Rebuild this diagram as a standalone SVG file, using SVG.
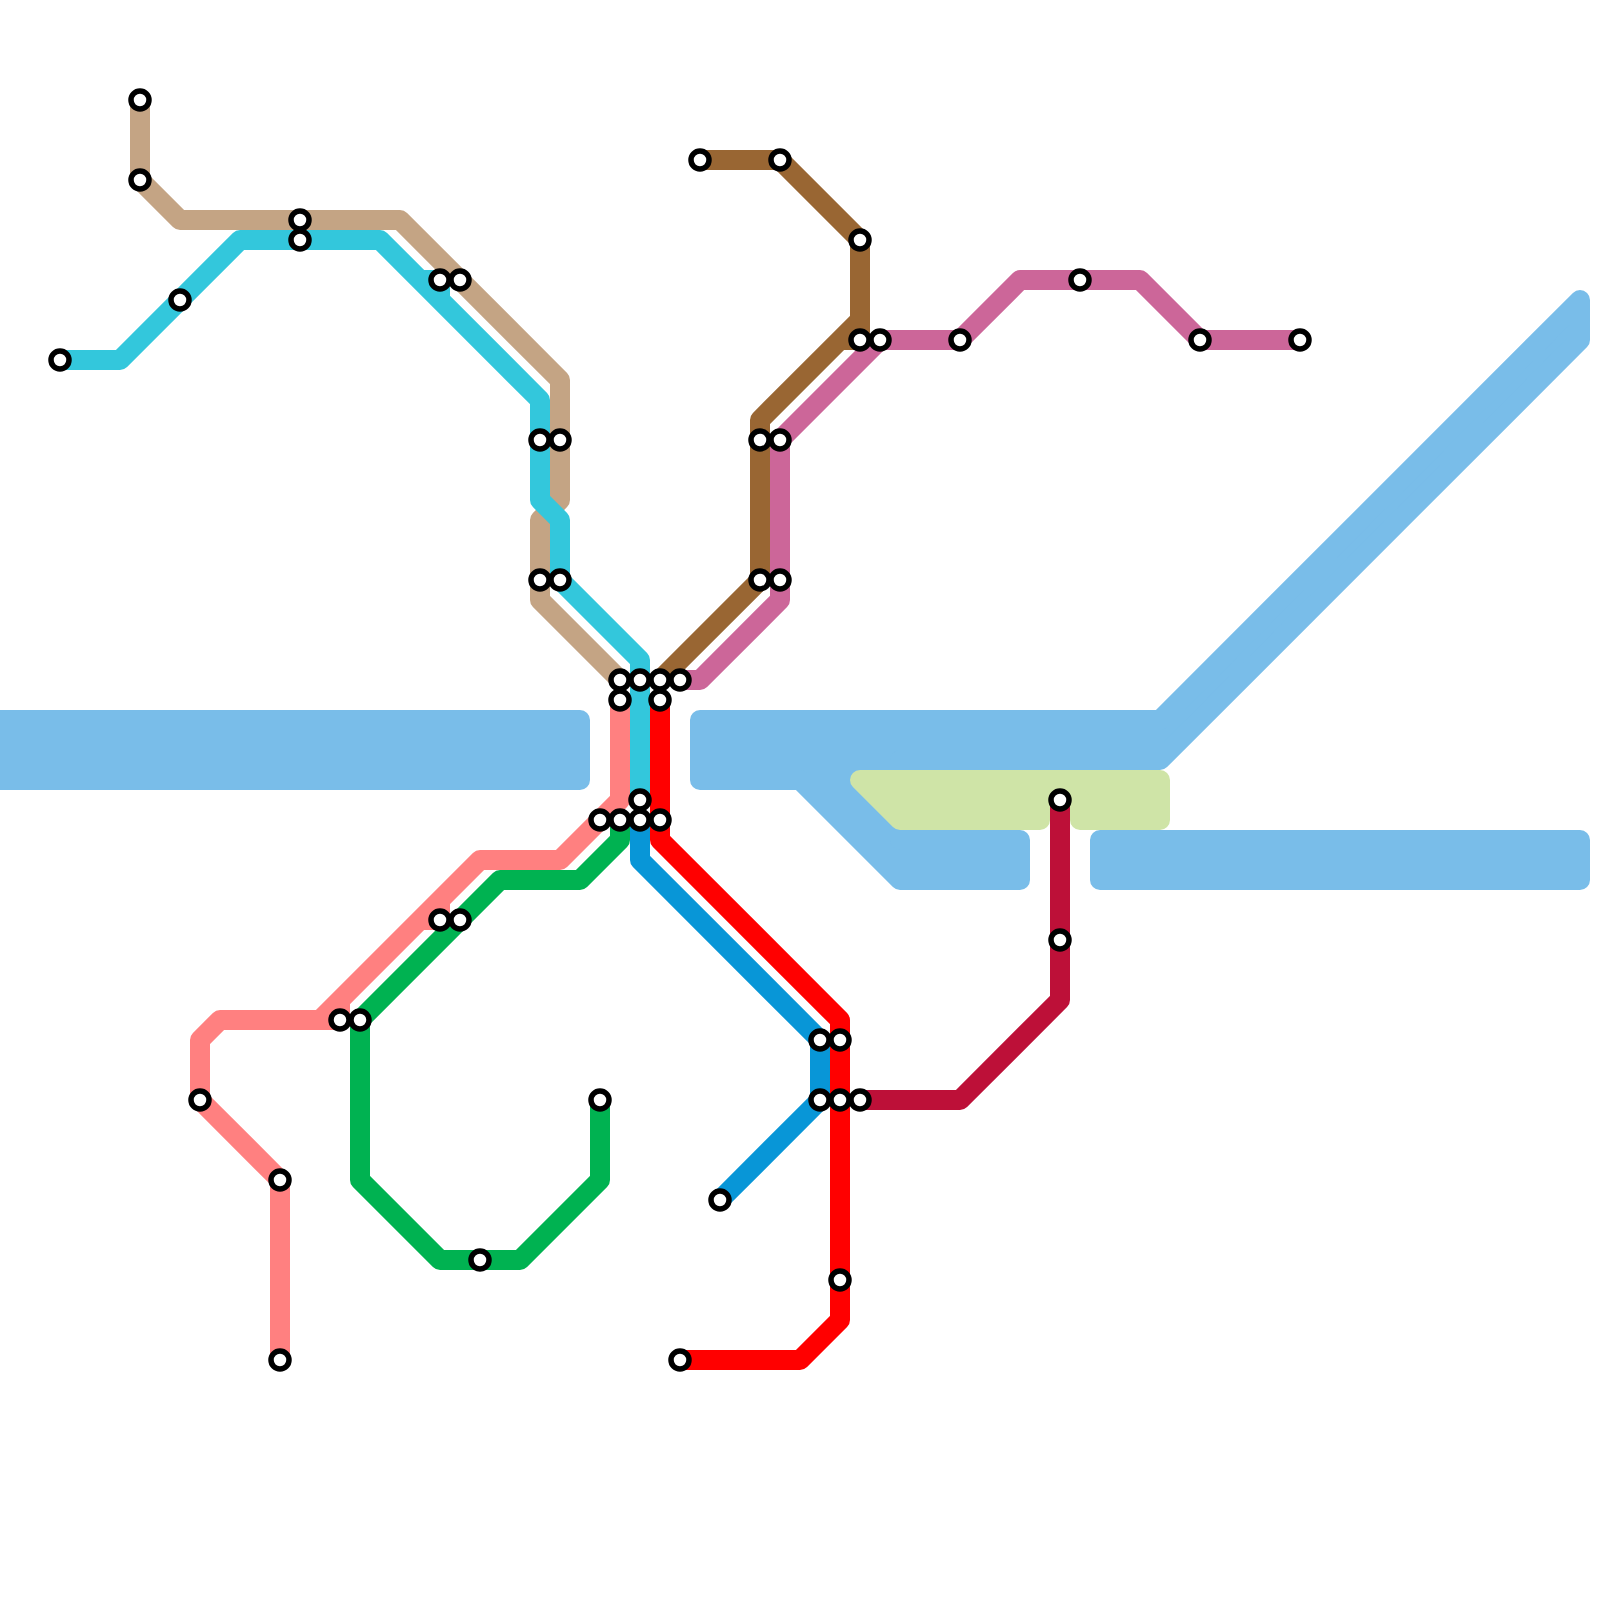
<svg xmlns="http://www.w3.org/2000/svg" width="1600" height="1600" viewBox="0 0 1600 1600">
<style>
.water{fill:#79bde9;stroke:#79bde9;stroke-width:20;stroke-linejoin:round}
.park{fill:#cfe4a7;stroke:#cfe4a7;stroke-width:20;stroke-linejoin:round}
.line{fill:none;stroke-width:20;stroke-linejoin:round;stroke-linecap:butt}
.st{fill:#fff;stroke:#000;stroke-width:5.5}
</style>
<rect width="1600" height="1600" fill="#fff"/>
<g id="water">
<polygon class="water" points="-20,720 580,720 580,780 -20,780"/>
<polygon class="water" points="700,720 1160,720 1580,300 1580,340 1160,760 900,760 900,840 1020,840 1020,880 900,880 800,780 700,780"/>
<polygon class="water" points="1100,840 1580,840 1580,880 1100,880"/>
</g>
<g id="parks">
<polygon class="park" points="860,780 1160,780 1160,820 1080,820 1080,800 1040,800 1040,820 900,820"/>
</g>
<g id="connectors">
<path class="line" stroke="#c4a484" d="M140,100 V180 L180,220 H400 L560,380 V500 L540,520 V600 L620,680"/>
<path class="line" stroke="#33c7dc" d="M60,360 H120 L240,240 H380 L540,400 V500 L560,520 V580 L640,660 V800 M420,280 H440 V300"/>
<path class="line" stroke="#ff8080" d="M280,1360 V1180 L200,1100 V1040 L220,1020 H320 L480,860 H560 L620,800 V700 M420,920 H440 V900 M320,1020 H340 V1000"/>
<path class="line" stroke="#00b251" d="M600,1100 V1180 L520,1260 H440 L360,1180 V1020 L500,880 H580 L620,840 V820"/>
<path class="line" stroke="#0896d7" d="M640,820 V860 L820,1040 V1100 L720,1200"/>
<path class="line" stroke="#ff0000" d="M660,700 V840 L840,1020 V1320 L800,1360 H680"/>
<path class="line" stroke="#bd1038" d="M860,1100 H960 L1060,1000 V800"/>
<path class="line" stroke="#996633" d="M700,160 H780 L860,240 V320 L760,420 V580 L660,680 M840,340 H860 V320"/>
<path class="line" stroke="#cc6699" d="M1300,340 H1200 L1140,280 H1020 L960,340 H880 L780,440 V600 L700,680 H680"/>
</g>
<g id="stations">
<g id="s-tan-1"><circle class="st" cx="140" cy="100" r="9"/></g>
<g id="s-tan-2"><circle class="st" cx="140" cy="180" r="9"/></g>
<g id="s-tan-3"><circle class="st" cx="300" cy="220" r="9"/></g>
<g id="s-tan-4"><circle class="st" cx="460" cy="280" r="9"/></g>
<g id="s-tan-5"><circle class="st" cx="560" cy="440" r="9"/></g>
<g id="s-tan-6"><circle class="st" cx="540" cy="580" r="9"/></g>
<g id="s-tan-7"><circle class="st" cx="620" cy="680" r="9"/></g>
<g id="s-cyan-1"><circle class="st" cx="60" cy="360" r="9"/></g>
<g id="s-cyan-2"><circle class="st" cx="180" cy="300" r="9"/></g>
<g id="s-cyan-3"><circle class="st" cx="300" cy="240" r="9"/></g>
<g id="s-cyan-4"><circle class="st" cx="440" cy="280" r="9"/></g>
<g id="s-cyan-5"><circle class="st" cx="540" cy="440" r="9"/></g>
<g id="s-cyan-6"><circle class="st" cx="560" cy="580" r="9"/></g>
<g id="s-cyan-7"><circle class="st" cx="640" cy="680" r="9"/></g>
<g id="s-cyan-8"><circle class="st" cx="640" cy="800" r="9"/></g>
<g id="s-pink-1"><circle class="st" cx="280" cy="1360" r="9"/></g>
<g id="s-pink-2"><circle class="st" cx="280" cy="1180" r="9"/></g>
<g id="s-pink-3"><circle class="st" cx="200" cy="1100" r="9"/></g>
<g id="s-pink-4"><circle class="st" cx="340" cy="1020" r="9"/></g>
<g id="s-pink-5"><circle class="st" cx="440" cy="920" r="9"/></g>
<g id="s-pink-6"><circle class="st" cx="600" cy="820" r="9"/></g>
<g id="s-pink-7"><circle class="st" cx="620" cy="700" r="9"/></g>
<g id="s-green-1"><circle class="st" cx="600" cy="1100" r="9"/></g>
<g id="s-green-2"><circle class="st" cx="480" cy="1260" r="9"/></g>
<g id="s-green-3"><circle class="st" cx="360" cy="1020" r="9"/></g>
<g id="s-green-4"><circle class="st" cx="460" cy="920" r="9"/></g>
<g id="s-green-5"><circle class="st" cx="620" cy="820" r="9"/></g>
<g id="s-blue-1"><circle class="st" cx="640" cy="820" r="9"/></g>
<g id="s-blue-2"><circle class="st" cx="820" cy="1040" r="9"/></g>
<g id="s-blue-3"><circle class="st" cx="820" cy="1100" r="9"/></g>
<g id="s-blue-4"><circle class="st" cx="720" cy="1200" r="9"/></g>
<g id="s-red-1"><circle class="st" cx="660" cy="700" r="9"/></g>
<g id="s-red-2"><circle class="st" cx="660" cy="820" r="9"/></g>
<g id="s-red-3"><circle class="st" cx="840" cy="1040" r="9"/></g>
<g id="s-red-4"><circle class="st" cx="840" cy="1100" r="9"/></g>
<g id="s-red-5"><circle class="st" cx="840" cy="1280" r="9"/></g>
<g id="s-red-6"><circle class="st" cx="680" cy="1360" r="9"/></g>
<g id="s-crimson-1"><circle class="st" cx="860" cy="1100" r="9"/></g>
<g id="s-crimson-2"><circle class="st" cx="1060" cy="940" r="9"/></g>
<g id="s-crimson-3"><circle class="st" cx="1060" cy="800" r="9"/></g>
<g id="s-brown-1"><circle class="st" cx="700" cy="160" r="9"/></g>
<g id="s-brown-2"><circle class="st" cx="780" cy="160" r="9"/></g>
<g id="s-brown-3"><circle class="st" cx="860" cy="240" r="9"/></g>
<g id="s-brown-4"><circle class="st" cx="860" cy="340" r="9"/></g>
<g id="s-brown-5"><circle class="st" cx="760" cy="440" r="9"/></g>
<g id="s-brown-6"><circle class="st" cx="760" cy="580" r="9"/></g>
<g id="s-brown-7"><circle class="st" cx="660" cy="680" r="9"/></g>
<g id="s-purple-1"><circle class="st" cx="1300" cy="340" r="9"/></g>
<g id="s-purple-2"><circle class="st" cx="1200" cy="340" r="9"/></g>
<g id="s-purple-3"><circle class="st" cx="1080" cy="280" r="9"/></g>
<g id="s-purple-4"><circle class="st" cx="960" cy="340" r="9"/></g>
<g id="s-purple-5"><circle class="st" cx="880" cy="340" r="9"/></g>
<g id="s-purple-6"><circle class="st" cx="780" cy="440" r="9"/></g>
<g id="s-purple-7"><circle class="st" cx="780" cy="580" r="9"/></g>
<g id="s-purple-8"><circle class="st" cx="680" cy="680" r="9"/></g>
</g>
</svg>
